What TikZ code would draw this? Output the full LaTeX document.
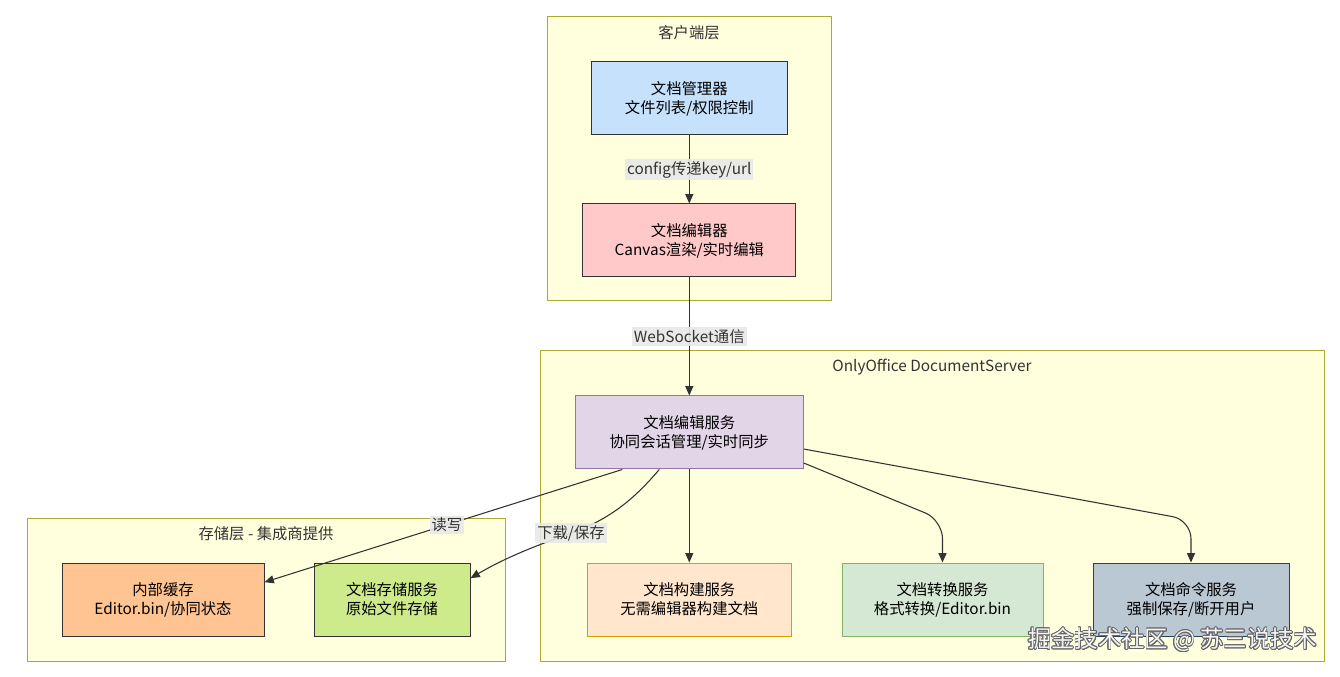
\documentclass[tikz,border=0pt]{standalone}
\usepackage{fontspec}
\setmainfont{Noto Sans CJK SC}
\usepackage{xcolor}
\usepackage{contour}
\usetikzlibrary{arrows.meta}
\definecolor{layerfill}{HTML}{FFFFDE}
\definecolor{layerline}{HTML}{AAAA33}
\definecolor{linkcol}{HTML}{333333}
\definecolor{labelbg}{HTML}{E8E8E8}

\begin{document}
\begin{tikzpicture}[x=0.75pt,y=-0.75pt,font=\fontsize{11.5}{14.2}\selectfont,
    layer/.style={draw=layerline,fill=layerfill,line width=0.75pt},
    title/.style={text centered,text=linkcol},
    base/.style={rectangle,draw=linkcol,line width=0.75pt,minimum height=54.75pt,
        align=center,text=black,inner sep=2pt},
    link/.style={draw=linkcol,line width=0.8pt,-{Triangle[length=7pt,width=6pt]}},
    tag/.style={fill=labelbg,fill opacity=0.9,text opacity=1,inner sep=1.5pt,text=linkcol}]

    \useasboundingbox (0,0) rectangle (1340,677);

    \path[layer] (547,17) rectangle (831,301);
    \path[layer] (540,351) rectangle (1324,661);
    \path[layer] (27,518) rectangle (505,661);

    \node[title] (T1) at (689,33) {客户端层};
    \node[title] (T2) at (932,367) {OnlyOffice DocumentServer};
    \node[title] (T3) at (266,534) {存储层 - 集成商提供};

    \node[base, fill={rgb,255:red,198;green,225;blue,252}, minimum width=147pt] (Mgr) at (689.3,98.5)
    {文档管理器\\文件列表/权限控制};

    \node[base, fill={rgb,255:red,255;green,201;blue,201}, minimum width=159.75pt] (Edt) at (689.3,240.5)
    {文档编辑器\\Canvas渲染/实时编辑};

    \node[base, draw={rgb,255:red,150;green,115;blue,166}, fill={rgb,255:red,225;green,213;blue,231}, minimum width=171pt] (EdSvc) at (689.3,432.5)
    {文档编辑服务\\协同会话管理/实时同步};

    \node[base, draw={rgb,255:red,215;green,155;blue,0}, fill={rgb,255:red,255;green,230;blue,204}, minimum width=153pt] (Build) at (689.3,599.5)
    {文档构建服务\\无需编辑器构建文档};

    \node[base, draw={rgb,255:red,130;green,179;blue,102}, fill={rgb,255:red,213;green,232;blue,212}, minimum width=150.75pt] (Conv) at (942.5,599.5)
    {文档转换服务\\格式转换/Editor.bin};

    \node[base, draw={rgb,255:red,35;green,68;blue,93}, fill={rgb,255:red,186;green,200;blue,211}, minimum width=147pt] (Cmd) at (1191,599.5)
    {文档命令服务\\强制保存/断开用户};

    \node[base, fill={rgb,255:red,255;green,196;blue,145}, minimum width=151.5pt] (Cache) at (163,599.5)
    {内部缓存\\Editor.bin/协同状态};

    \node[base, fill={rgb,255:red,205;green,235;blue,139}, minimum width=117pt] (Store) at (392,599.5)
    {文档存储服务\\原始文件存储};

    \coordinate (DlMid) at (571,533);
    \coordinate (ConvBend) at (942.5,520);
    \coordinate (CmdBend) at (1191,520);

    \path[]
    {
        (Mgr) edge[link] node[tag] {config传递key/url} (Edt)
        (Edt) edge[link] node[tag] {WebSocket通信} (EdSvc)
        (EdSvc) edge[link] (Build)
        ([xshift=-50.25pt]EdSvc.south) edge[link] node[tag, pos=0.49] {读写} ([yshift=13pt]Cache.east)
    };
    \draw[link] ([xshift=-22.5pt]EdSvc.south) .. controls (640,492) and (615,518) .. (DlMid)
        .. controls (530,548) and (505,558) .. ([yshift=16pt]Store.east);
    \node[tag] (DlTag) at (DlMid) {下载/保存};
    \draw[link, rounded corners=14pt] ([yshift=-22.9pt]EdSvc.east) -- (ConvBend) -- (Conv.north);
    \draw[link, rounded corners=14pt] ([yshift=-12.4pt]EdSvc.east) -- (CmdBend) -- (Cmd.north);

    \node[font=\fontsize{17.5}{20}\selectfont, anchor=east] (Mark) at (1322,640)
    {\contourlength{0.5pt}\contour{gray!80!black}{\textcolor{white!93!gray}{掘金技术社区 @ 苏三说技术}}};
\end{tikzpicture}
\end{document}
